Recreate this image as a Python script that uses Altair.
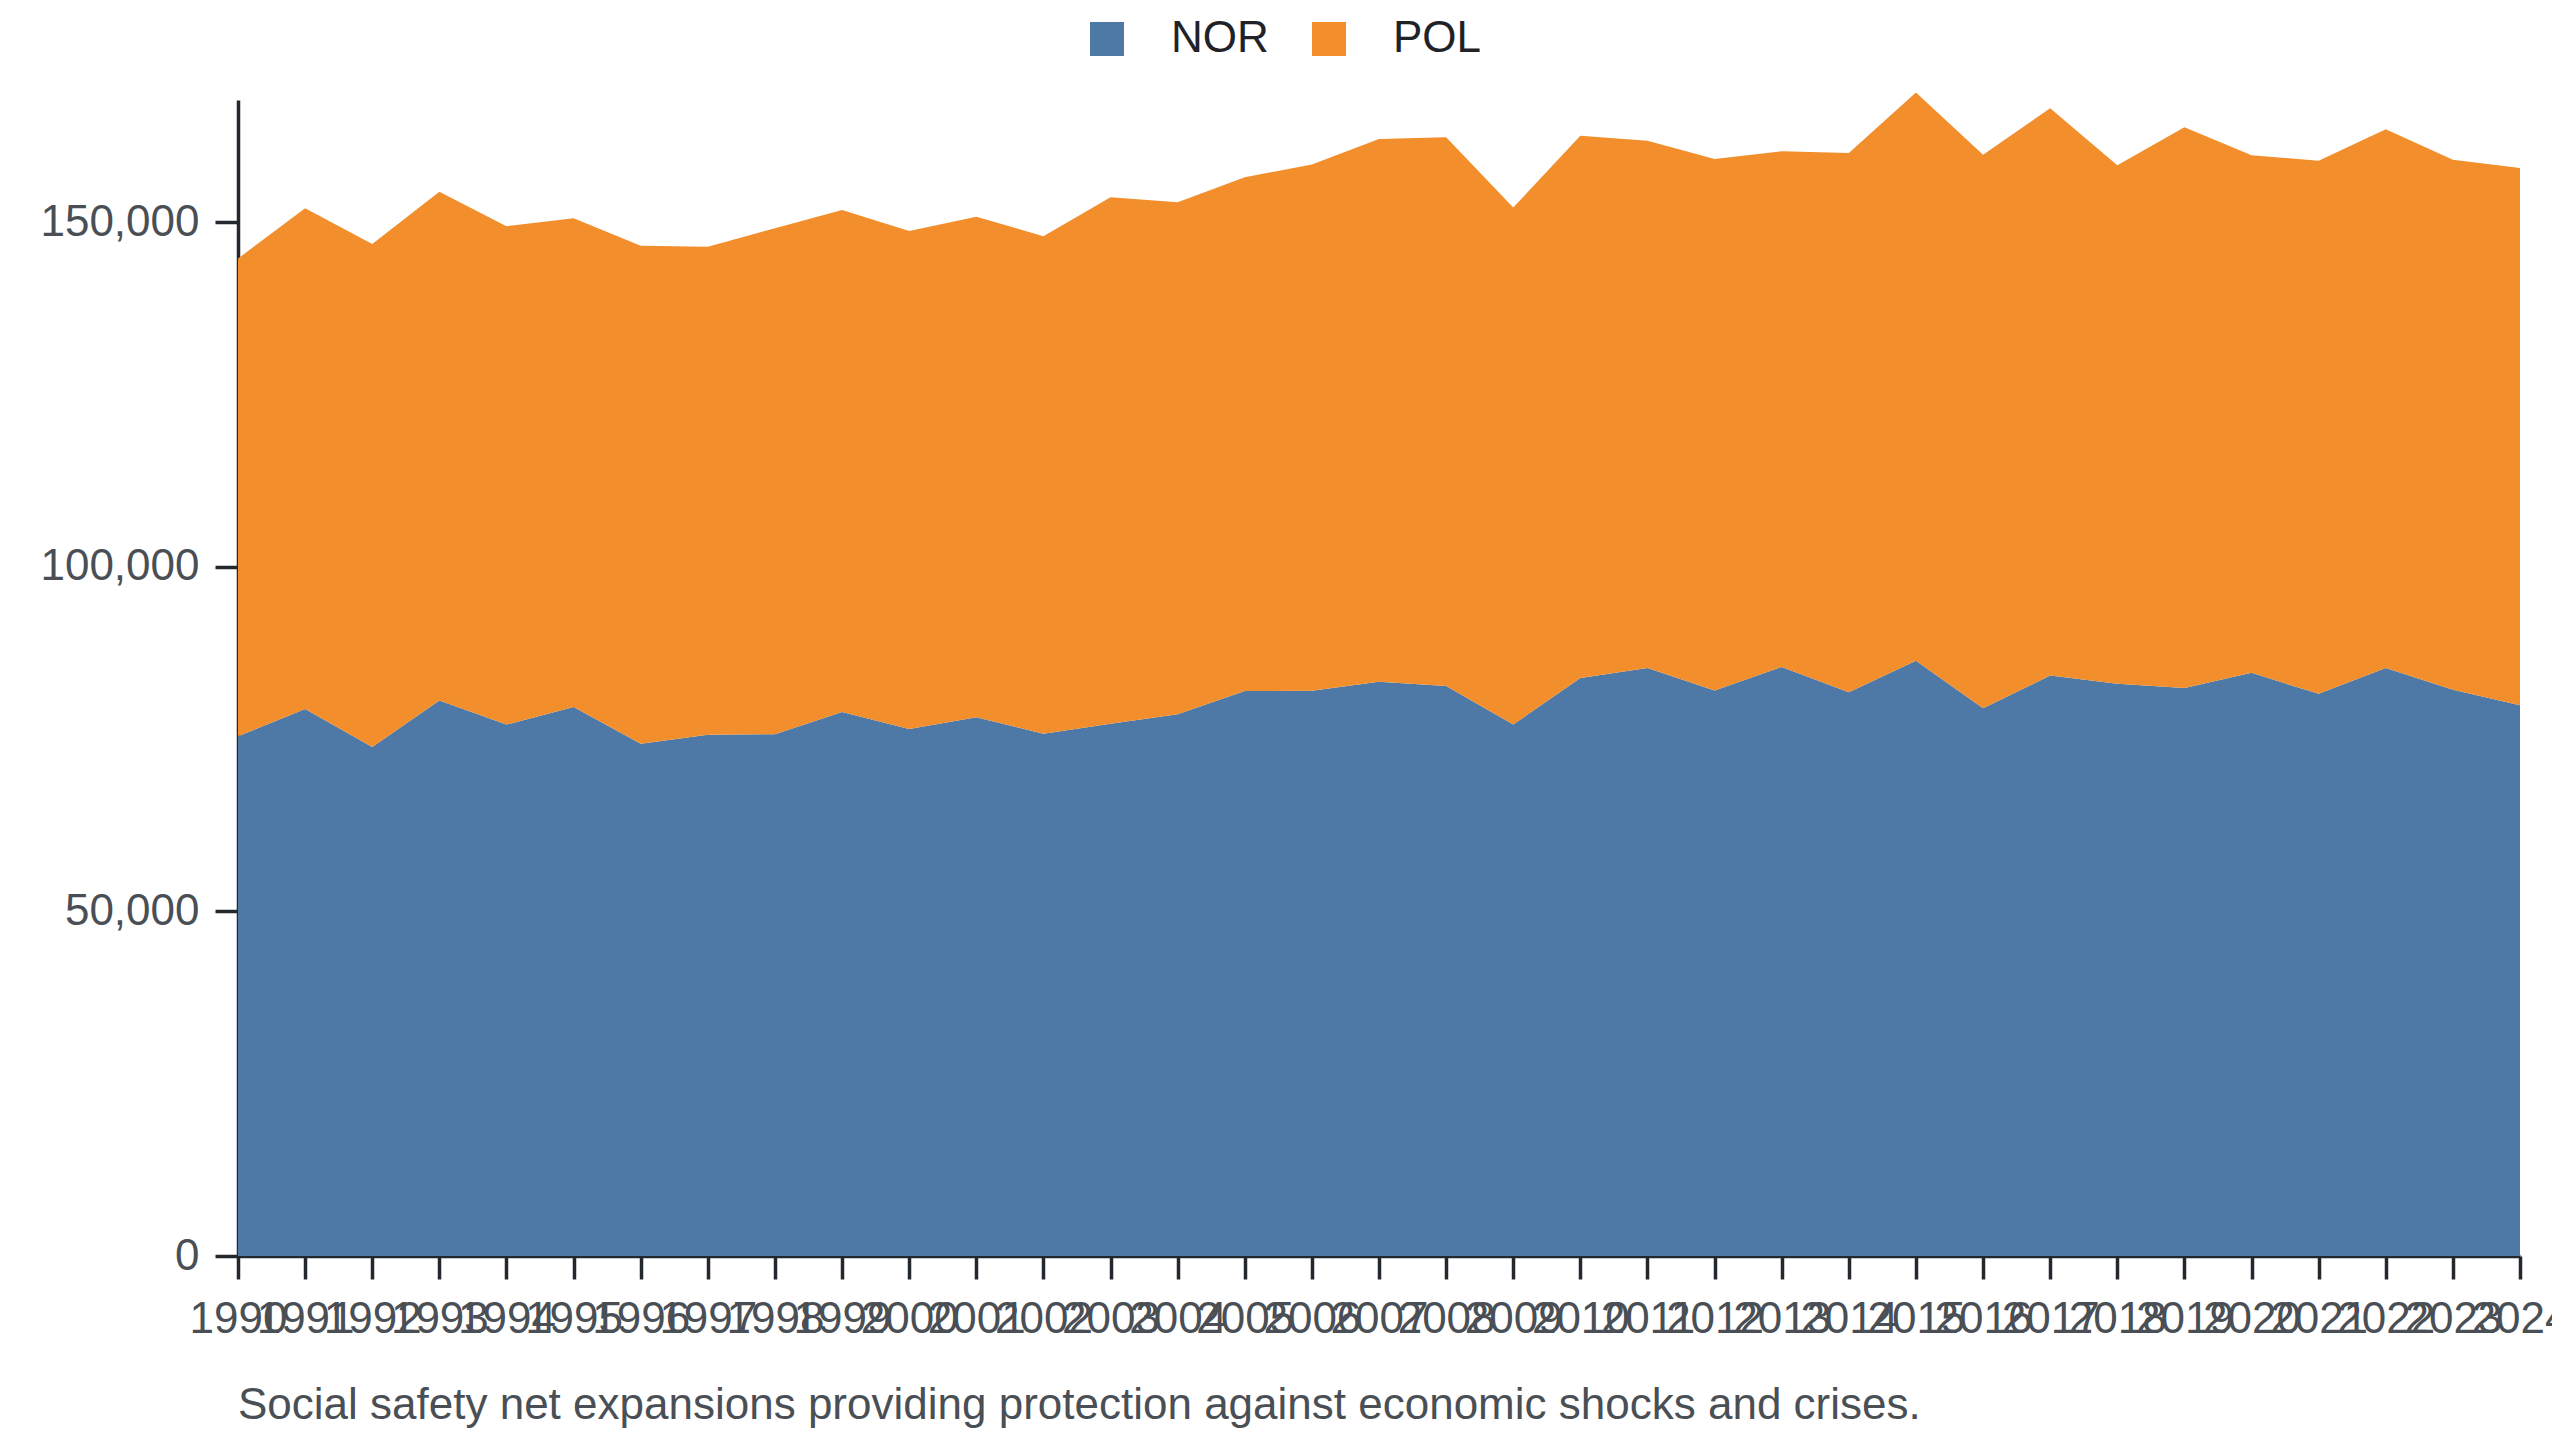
"""
Stacked area chart of NOR and POL yearly values, 1990-2024.
"""

import altair as alt
import pandas as pd

years = list(range(1990, 2025))
nor_values = [75400, 79350, 73850, 80600, 77100, 79650, 74300, 75600, 75700,
              78900, 76450, 78150, 75750, 77200, 78600, 81950, 82000, 83300,
              82700, 77100, 83850, 85300, 82050, 85450, 81800, 86350, 79450,
              84200, 83000, 82400, 84600, 81550, 85300, 82150, 79900]
pol_values = [69300, 72650, 72950, 73800, 72300, 70900, 72250, 70800, 73400,
              72850, 72250, 72600, 72200, 76400, 74250, 74550, 76350, 78750,
              79600, 75000, 78650, 76500, 77100, 74800, 78200, 82450, 80300,
              82300, 75250, 81350, 75100, 77350, 78150, 76900, 77950]
series = ['NOR', 'POL']
colors = ['#4e79a7', '#f28e2b']
y_ticks = [0, 50000, 100000, 150000]
caption = ("Social safety net expansions providing protection against "
           "economic shocks and crises.")

FONT = 'Liberation Sans'


def build_frame():
    """
    Build a long table with one row per year and country.
    """
    rows = []
    for i, year in enumerate(years):
        rows.append({'year': year, 'country': 'NOR',
                     'value': nor_values[i], 'rank': 0})
        rows.append({'year': year, 'country': 'POL',
                     'value': pol_values[i], 'rank': 1})
    return pd.DataFrame(rows)


def main():
    df = build_frame()

    chart = alt.Chart(df).mark_area(opacity=1).encode(
        alt.X('year:Q',
              scale=alt.Scale(domain=[1990, 2024], nice=False, zero=False),
              axis=alt.Axis(values=years, format='d', labelAngle=0,
                            labelOverlap=False, labelFlush=False,
                            labelPadding=18, grid=False, title=None)),
        alt.Y('value:Q', stack='zero',
              scale=alt.Scale(domain=[0, 167700], nice=False),
              axis=alt.Axis(values=y_ticks, format=',d', grid=False,
                            labelPadding=16, title=None)),
        color=alt.Color('country:N',
                        scale=alt.Scale(domain=series, range=colors),
                        legend=alt.Legend(title=None, orient='none',
                                          direction='horizontal',
                                          legendX=847, legendY=-83,
                                          symbolType='square',
                                          symbolSize=1156,
                                          symbolOpacity=1,
                                          labelFontSize=44,
                                          labelFont=FONT,
                                          labelColor='#1f2328',
                                          labelOffset=42,
                                          columnPadding=38)),
        order=alt.Order('rank:Q')
    ).properties(
        width=2282,
        height=1156,
        padding={'left': 230, 'top': 92, 'right': 32, 'bottom': 176},
        autosize=alt.AutoSizeParams(type='none'),
        title=alt.TitleParams(caption, orient='bottom', anchor='start',
                              frame='group', offset=43, fontSize=44,
                              font=FONT, fontWeight='normal',
                              color='#4a4f55')
    ).configure_view(
        stroke=None
    ).configure_axis(
        labelFont=FONT,
        labelFontSize=44,
        labelColor='#4a4f55',
        domainColor='#23272e',
        domainWidth=3.5,
        tickColor='#23272e',
        tickWidth=3.5,
        tickSize=23
    )

    chart.save("out.html", embed_options={"renderer": "svg",
                                          "actions": False})


if __name__ == "__main__":
    main()
